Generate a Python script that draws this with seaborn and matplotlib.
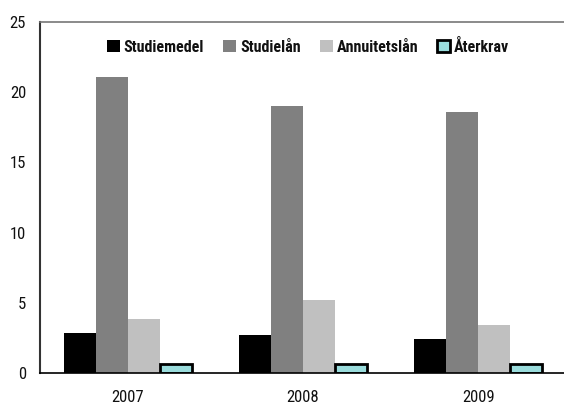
import numpy as np
import matplotlib.pyplot as plt
import seaborn as sns
import pandas as pd

# Data
years = ['2007', '2008', '2009']
series = ['Studiemedel', 'Studielån', 'Annuitetslån', 'Återkrav']
studiemedel = [2.85, 2.7, 2.42]
studielan = [21.08, 19.0, 18.6]
annuitetslan = [3.85, 5.2, 3.42]
aterkrav = [0.62, 0.62, 0.62]

df = pd.DataFrame({
    'year': years * 4,
    'serie': np.repeat(series, 3),
    'value': studiemedel + studielan + annuitetslan + aterkrav,
})

sns.set_style('white')
plt.rcParams['font.family'] = ['Roboto Condensed', 'DejaVu Sans']

colors = ['#000000', '#808080', '#c0c0c0', '#9adcdc']

fig = plt.figure(figsize=(5.64, 4.05), dpi=100)
ax = fig.add_axes([40 / 564, 32 / 405, 526 / 564, 351 / 405])

sns.barplot(data=df, x='year', y='value', hue='serie', hue_order=series,
            palette=colors, width=0.73, saturation=1, ax=ax, errorbar=None,
            linewidth=0)

# Återkrav bars get a black outline
for bar in ax.containers[3]:
    bar.set_edgecolor('black')
    bar.set_linewidth(2)

ax.set_xlim(-0.5, 2.5)
ax.set_ylim(0, 25)
ax.set_yticks([0, 5, 10, 15, 20, 25])
ax.set_xlabel('')
ax.set_ylabel('')

# spines
ax.spines['right'].set_visible(False)
ax.spines['top'].set_color('#777777')
ax.spines['top'].set_linewidth(1.2)
ax.spines['left'].set_color('#333333')
ax.spines['left'].set_linewidth(1.5)
ax.spines['bottom'].set_color('black')
ax.spines['bottom'].set_linewidth(1.2)

# ticks: y inward, x on group boundaries
ax.tick_params(axis='y', direction='in', length=4, color='#333333', labelsize=12,
               pad=10, labelcolor='#111111')
ax.tick_params(axis='x', which='major', length=0, labelsize=12, pad=12,
               labelcolor='#111111')
ax.set_xticks([-0.5, 0.5, 1.5], minor=True)
ax.tick_params(axis='x', which='minor', direction='inout', length=10, color='#333333')

leg = ax.legend(loc='center', bbox_to_anchor=(0.51, 0.929), ncol=4, frameon=False,
                handlelength=0.8, handleheight=0.8, handletextpad=0.25, columnspacing=1.2,
                prop={'weight': 'bold', 'size': 11.5})
for t in leg.get_texts():
    t.set_color('#111111')
h = leg.legend_handles[3]
h.set_edgecolor('black')
h.set_linewidth(2)

fig.savefig('out.png', dpi=100)
